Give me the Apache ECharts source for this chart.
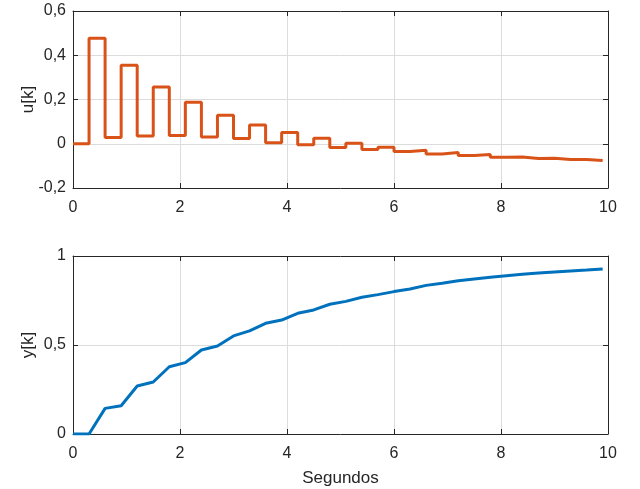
<!DOCTYPE html>
<html>
<head>
<meta charset="utf-8">
<script src="https://cdn.jsdelivr.net/npm/echarts@6/dist/echarts.min.js"></script>
<style>
html,body{margin:0;padding:0;background:#fff;}
#chart{width:640px;height:489px;}
</style>
</head>
<body>
<div id="chart"></div>
<script>
// Sample instants (s)
var times = [0, 0.3, 0.6, 0.9, 1.2, 1.5, 1.8, 2.1, 2.4, 2.7, 3.0, 3.3, 3.6, 3.9, 4.2, 4.5, 4.8,
  5.1, 5.4, 5.7, 6.0, 6.3, 6.6, 6.9, 7.2, 7.5, 7.8, 8.1, 8.4, 8.7, 9.0, 9.3, 9.6, 9.9];
// Control signal u[k]
var uValues = [0, 0.477, 0.028, 0.355, 0.035, 0.257, 0.037, 0.188, 0.031, 0.129, 0.024, 0.085,
  0.005, 0.051, -0.005, 0.025, -0.017, 0.002, -0.026, -0.016, -0.035, -0.029, -0.046, -0.040,
  -0.053, -0.049, -0.061, -0.060, -0.067, -0.066, -0.071, -0.071, -0.076, -0.076];
// Output y[k]
var yValues = [0, 0, 0.144, 0.159, 0.270, 0.292, 0.378, 0.401, 0.472, 0.494, 0.551, 0.579,
  0.622, 0.640, 0.678, 0.697, 0.729, 0.745, 0.768, 0.783, 0.800, 0.815, 0.835, 0.847,
  0.861, 0.871, 0.880, 0.889, 0.897, 0.904, 0.910, 0.916, 0.921, 0.927];
var xTicks = [0, 2, 4, 6, 8, 10];
var uTicks = [-0.2, 0, 0.2, 0.4, 0.6];
var yTicks = [0, 0.5, 1];
var xName = 'Segundos';
var uName = 'u[k]';
var yName = 'y[k]';

var axisColor = '#262626';
var gridColor = '#dcdcdc';
var font = 'Liberation Sans, Arial, Helvetica, sans-serif';
function fmt(v) { return String(+Number(v).toFixed(2)).replace('.', ','); }

function xAxisDef(gi, pos, main) {
  return {
    type: 'value', gridIndex: gi, position: pos,
    min: xTicks[0], max: xTicks[xTicks.length - 1], interval: xTicks[1] - xTicks[0],
    name: (main && gi === 1) ? xName : '',
    nameLocation: 'middle', nameGap: 36, nameMoveOverlap: false,
    nameTextStyle: { fontFamily: font, fontSize: 17, color: axisColor },
    axisLine: { show: true, onZero: false, lineStyle: { color: axisColor, width: 1 } },
    axisTick: { show: true, inside: true, length: 5, lineStyle: { color: axisColor } },
    axisLabel: { show: main, fontFamily: font, fontSize: 16, color: axisColor, margin: 12, formatter: fmt },
    splitLine: { show: main, lineStyle: { color: gridColor, width: 1 } }
  };
}
function yAxisDef(gi, pos, main, ticks, name) {
  return {
    type: 'value', gridIndex: gi, position: pos,
    min: ticks[0], max: ticks[ticks.length - 1], interval: ticks[1] - ticks[0],
    name: main ? name : '',
    nameLocation: 'middle', nameGap: 45, nameRotate: 90, nameMoveOverlap: false,
    nameTextStyle: { fontFamily: font, fontSize: 17, color: axisColor, verticalAlign: 'middle' },
    axisLine: { show: true, onZero: false, lineStyle: { color: axisColor, width: 1 } },
    axisTick: { show: true, inside: true, length: 5, lineStyle: { color: axisColor } },
    axisLabel: { show: main, fontFamily: font, fontSize: 16, color: axisColor, margin: 7, formatter: fmt },
    splitLine: { show: main, lineStyle: { color: gridColor, width: 1 } }
  };
}

var uData = times.map(function (t, i) { return [t, uValues[i]]; });
var yData = times.map(function (t, i) { return [t, yValues[i]]; });

var chart = echarts.init(document.getElementById('chart'), null, { renderer: 'canvas' });
chart.setOption({
  animation: false,
  backgroundColor: '#ffffff',
  grid: [
    { left: 73, top: 11, width: 535, height: 177 },
    { left: 73, top: 256, width: 535, height: 178 }
  ],
  xAxis: [
    xAxisDef(0, 'bottom', true), xAxisDef(0, 'top', false),
    xAxisDef(1, 'bottom', true), xAxisDef(1, 'top', false)
  ],
  yAxis: [
    yAxisDef(0, 'left', true, uTicks, uName), yAxisDef(0, 'right', false, uTicks, uName),
    yAxisDef(1, 'left', true, yTicks, yName), yAxisDef(1, 'right', false, yTicks, yName)
  ],
  series: [
    {
      type: 'line', xAxisIndex: 0, yAxisIndex: 0, data: uData, step: 'end',
      showSymbol: false, symbol: 'none',
      lineStyle: { color: '#D95319', width: 3 }
    },
    {
      type: 'line', xAxisIndex: 2, yAxisIndex: 2, data: yData,
      showSymbol: false, symbol: 'none',
      lineStyle: { color: '#0072BD', width: 3 }
    }
  ]
});
</script>
</body>
</html>
